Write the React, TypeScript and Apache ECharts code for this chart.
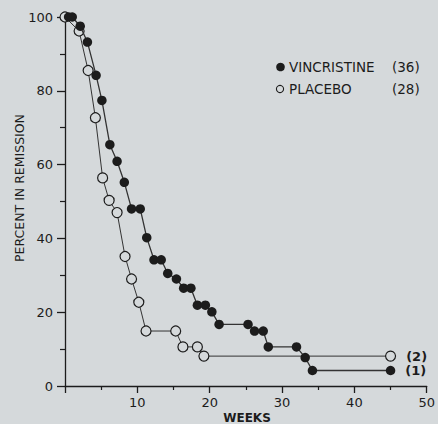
import React, { useEffect, useRef } from "react";
import * as echarts from "echarts";

const vincristineWeeks = [0.5, 1, 2.1, 3.1, 4.3, 5.1, 6.2, 7.2, 8.2, 9.2, 10.4, 11.3, 12.3, 13.3, 14.2, 15.4, 16.4, 17.4, 18.3, 19.4, 20.3, 21.3, 25.3, 26.2, 27.4, 28.1, 32.0, 33.2, 34.2, 45];
const vincristinePct = [100, 100, 97.5, 93.2, 84.2, 77.4, 65.4, 60.9, 55.2, 48, 48, 40.2, 34.2, 34.2, 30.5, 29, 26.5, 26.5, 21.9, 21.9, 20.1, 16.7, 16.7, 14.9, 14.9, 10.6, 10.6, 7.7, 4.2, 4.2];
const placeboWeeks = [0, 1.95, 3.2, 4.2, 5.2, 6.1, 7.2, 8.3, 9.2, 10.2, 11.2, 15.3, 16.3, 18.3, 19.2, 45];
const placeboPct = [100, 96.2, 85.5, 72.7, 56.4, 50.3, 47, 35.1, 29, 22.7, 14.9, 14.9, 10.6, 10.6, 8.1, 8.1];
const xTicks = [0, 10, 20, 30, 40, 50];
const yTicks = [0, 20, 40, 60, 80, 100];
const legendNames = ["VINCRISTINE", "PLACEBO"];
const legendCounts = ["(36)", "(28)"];
const endLabels = ["(1)", "(2)"];

const BG = "#d5d9db";
const INK = "#1c1c1c";
const FONT = "DejaVu Sans";

export default function App() {
  const ref = useRef<HTMLDivElement>(null);
  useEffect(() => {
    if (!ref.current) return;
    const chart = echarts.init(ref.current, undefined, { renderer: "svg" });
    const mk = (xs: number[], ys: number[], label: string) =>
      xs.map((x, i) =>
        i === xs.length - 1
          ? {
              value: [x, ys[i]],
              label: {
                show: true,
                formatter: label,
                position: "right",
                distance: 10,
                color: INK,
                fontFamily: FONT,
                fontWeight: "bold",
                fontSize: 13,
              },
            }
          : { value: [x, ys[i]] }
      );
    chart.setOption({
      animation: false,
      backgroundColor: BG,
      grid: { left: 65, right: 7, top: 17, bottom: 38 },
      xAxis: {
        type: "value",
        min: xTicks[0],
        max: xTicks[xTicks.length - 1],
        interval: 10,
        axisLine: { show: true, lineStyle: { color: INK, width: 1.3 } },
        axisTick: { show: true, inside: false, length: 7, lineStyle: { color: INK, width: 1.3 } },
        minorTick: { show: true, splitNumber: 2, length: 4, lineStyle: { color: INK, width: 1.2 } },
        splitLine: { show: false },
        axisLabel: {
          color: INK,
          fontFamily: FONT,
          fontSize: 13,
          margin: 10,
          formatter: (v: number) => (v === 0 ? "" : String(v)),
        },
      },
      yAxis: {
        type: "value",
        min: yTicks[0],
        max: yTicks[yTicks.length - 1],
        interval: 20,
        axisLine: { show: true, lineStyle: { color: INK, width: 1.3 } },
        axisTick: { show: true, inside: false, length: 8, lineStyle: { color: INK, width: 1.3 } },
        minorTick: { show: true, splitNumber: 2, length: 5, lineStyle: { color: INK, width: 1.2 } },
        splitLine: { show: false },
        axisLabel: { color: INK, fontFamily: FONT, fontSize: 13, margin: 12 },
      },
      graphic: [
        {
          type: "text",
          x: 19,
          y: 188,
          rotation: Math.PI / 2,
          style: {
            text: "PERCENT IN REMISSION",
            fill: INK,
            font: `12.5px '${FONT}'`,
            textAlign: "center",
            textVerticalAlign: "middle",
          },
        },
        {
          type: "text",
          x: 247,
          y: 418,
          style: {
            text: "WEEKS",
            fill: INK,
            font: `bold 12px '${FONT}'`,
            textAlign: "center",
            textVerticalAlign: "middle",
          },
        },
        { type: "circle", shape: { cx: 280.5, cy: 67, r: 4.3 }, style: { fill: INK } },
        { type: "circle", shape: { cx: 280, cy: 89, r: 3.6 }, style: { fill: BG, stroke: INK, lineWidth: 1.1 } },
        ...legendNames.map((n, i) => ({
          type: "text",
          x: 289,
          y: 67 + i * 22,
          style: { text: n, fill: INK, font: `13.5px '${FONT}'`, textVerticalAlign: "middle" },
        })),
        ...legendCounts.map((n, i) => ({
          type: "text",
          x: 392,
          y: 67 + i * 22,
          style: { text: n, fill: INK, font: `13.5px '${FONT}'`, textVerticalAlign: "middle" },
        })),
      ],
      series: [
        {
          type: "line",
          name: "PLACEBO",
          data: mk(placeboWeeks, placeboPct, endLabels[1]),
          symbol: "circle",
          symbolSize: 10,
          showAllSymbol: true,
          lineStyle: { color: "#333", width: 1 },
          itemStyle: { color: BG, borderColor: INK, borderWidth: 1.2 },
          z: 3,
        },
        {
          type: "line",
          name: "VINCRISTINE",
          data: mk(vincristineWeeks, vincristinePct, endLabels[0]),
          symbol: "circle",
          symbolSize: 9.5,
          showAllSymbol: true,
          lineStyle: { color: "#333", width: 1.3 },
          itemStyle: { color: INK, borderColor: INK, borderWidth: 0 },
          z: 4,
        },
      ],
    });
    return () => chart.dispose();
  }, []);
  return (
    <div
      ref={ref}
      style={{ position: "fixed", left: 0, top: 0, width: 438, height: 424 }}
    />
  );
}
